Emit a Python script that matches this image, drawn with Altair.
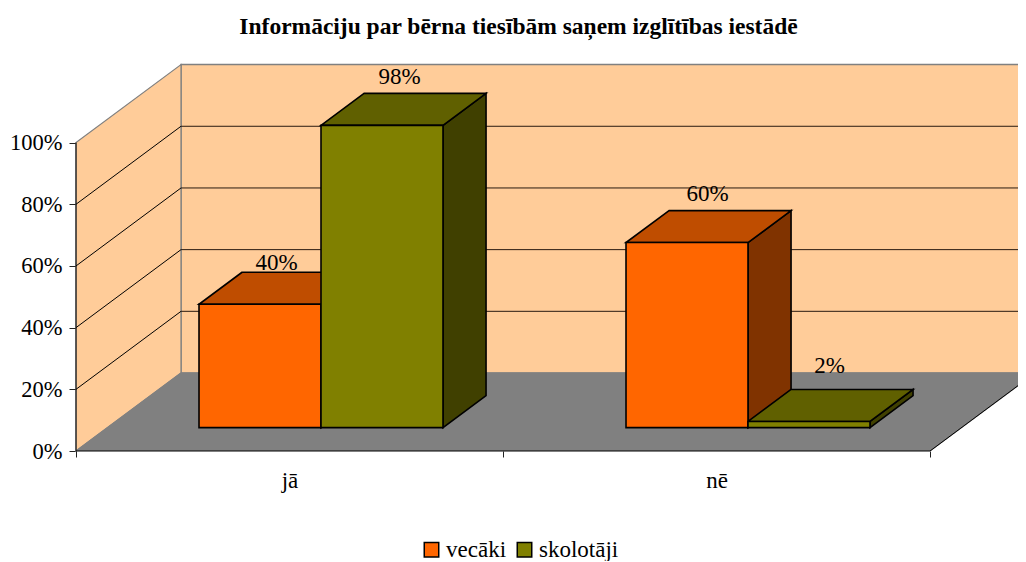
import altair as alt
import pandas as pd

TITLE = "Informāciju par bērna tiesībām saņem izglītības iestādē"
categories = ["jā", "nē"]
series = ["vecāki", "skolotāji"]
vecaki = [40, 60]
skolotaji = [98, 2]
ticks = [0, 20, 40, 60, 80, 100]

FONT = "Liberation Serif"
front_colors = ["#FF6600", "#808000"]
top_colors = ["#BF4D00", "#606000"]
side_colors = ["#803300", "#404000"]
WALL, FLOOR, EDGE = "#FFCC99", "#808080", "#808080"

# layout of the oblique projection
PX_W, PX_H = 942, 391
UX, UY = 427.0, 3.084                # pixels per category / per percent
DX, DY = 105 / UX, 78 / UY           # full depth shift in axis units
XMAX, YMAX = PX_W / UX, PX_H / UY
Z0, Z1 = 0.30, 0.71                  # bar front and back depth
GAP, BAR = 0.2143, 0.2857
# label nudges in pixels (x, y of label baseline above the mid-depth top)
nudge = {(0, 0): (-5, 18), (0, 1): (-4, 25), (1, 0): (-1, 26), (1, 1): (-1, 32)}

xs = alt.Scale(domain=[0, XMAX], nice=False, zero=False)
ys = alt.Scale(domain=[0, YMAX], nice=False, zero=False)
xaxis = alt.Axis(values=[0, 0.5, 1, 1.5, 2], title=None, domain=False, grid=False,
                 labelExpr="datum.value==0.5?'%s':datum.value==1.5?'%s':''" % tuple(categories),
                 labelFont=FONT, labelFontSize=23, labelColor="black", labelPadding=12,
                 labelAngle=0, labelOverlap=False, tickSize=6, tickColor="#222222",
                 tickOpacity={"condition": {"test": "datum.value % 1 == 0", "value": 1}, "value": 0})
yaxis = alt.Axis(values=ticks, title=None, domain=False, grid=False,
                 labelExpr="datum.value+'%'", labelFont=FONT, labelFontSize=22.5,
                 labelColor="black", labelPadding=7, tickSize=7, tickColor="#222222")


def X(f):
    return alt.X(f, type="quantitative", scale=xs, axis=xaxis)


def Y(f):
    return alt.Y(f, type="quantitative", scale=ys, axis=yaxis, stack=None)


rows_front, rows_top, rows_side, rows_label = [], [], [], []
for ci, cat in enumerate(categories):
    for si, vals in enumerate([vecaki, skolotaji]):
        v = vals[ci]
        a = ci + GAP + si * BAR
        b = a + BAR
        key = f"{ci}-{si}"
        rows_front.append(dict(x=a + Z0 * DX, x2=b + Z0 * DX, y=Z0 * DY + v, y2=Z0 * DY, s=series[si]))
        for z in (Z0, Z1):
            rows_top.append(dict(k=key, y=v + z * DY, x=a + z * DX, x2=b + z * DX, f=top_colors[si]))
            rows_side.append(dict(k=key, x=b + z * DX, y=v + z * DY, y2=z * DY, f=side_colors[si]))
        zm = (Z0 + Z1) / 2
        nx, ny = nudge[(ci, si)]
        rows_label.append(dict(x=(a + b) / 2 + zm * DX + nx / UX, y=v + zm * DY + ny / UY, t=f"{v}%"))

wall_back = pd.DataFrame([dict(x=DX, x2=2 + DX, y=DY, y2=100 + DY)])
wall_side = pd.DataFrame([dict(x=0, y=0, y2=100), dict(x=DX, y=DY, y2=100 + DY)])
floor = pd.DataFrame([dict(y=0, x=0, x2=2), dict(y=DY, x=DX, x2=2 + DX)])
grid_vals = [t for t in ticks if 0 < t < 100]
grid_back = pd.DataFrame([dict(x=DX, x2=2 + DX, y=t + DY, y2=t + DY) for t in grid_vals])
grid_side = pd.DataFrame([dict(x=0, x2=DX, y=t, y2=t + DY) for t in grid_vals])
frame = pd.DataFrame([
    dict(x=0, x2=2, y=0, y2=0),
    dict(x=0, x2=0, y=0, y2=100),
    dict(x=2, x2=2 + DX, y=0, y2=DY),
])


def rule(df, **kw):
    return alt.Chart(df).mark_rule(**kw).encode(x=X("x"), x2="x2", y=Y("y"), y2="y2")


layers = [
    alt.Chart(wall_back).mark_rect(fill=WALL, stroke=EDGE, strokeWidth=1.5, clip=True)
    .encode(x=X("x"), x2="x2", y=Y("y"), y2="y2"),
    alt.Chart(wall_side).mark_area(fill=WALL, stroke=EDGE, strokeWidth=1.2)
    .encode(x=X("x"), y=Y("y"), y2="y2"),
    rule(grid_back, color="#2a1a10", strokeWidth=1, clip=True),
    rule(grid_side, color="black", strokeWidth=1),
    alt.Chart(floor).mark_area(orient="horizontal", fill=FLOOR, stroke=EDGE, strokeWidth=1.2, clip=True)
    .encode(y=alt.Y("y", type="quantitative", scale=ys, axis=yaxis, stack=None),
            x=alt.X("x", type="quantitative", scale=xs, axis=xaxis, stack=None), x2="x2"),
    rule(frame, color="black", strokeWidth=1),
    alt.Chart(pd.DataFrame(rows_side)).mark_area(stroke="black", strokeWidth=1.6)
    .encode(x=X("x"), y=Y("y"), y2="y2", detail="k:N", fill=alt.Fill("f:N", scale=None)),
    alt.Chart(pd.DataFrame(rows_top)).mark_area(orient="horizontal", stroke="black", strokeWidth=1.6)
    .encode(y=alt.Y("y", type="quantitative", scale=ys, axis=yaxis, stack=None),
            x=alt.X("x", type="quantitative", scale=xs, axis=xaxis, stack=None), x2="x2",
            detail="k:N", fill=alt.Fill("f:N", scale=None)),
    alt.Chart(pd.DataFrame(rows_front)).mark_rect(stroke="black", strokeWidth=1.6)
    .encode(x=X("x"), x2="x2", y=Y("y"), y2="y2",
            color=alt.Color("s:N", scale=alt.Scale(domain=series, range=front_colors),
                            legend=alt.Legend(orient="none", legendX=344, legendY=478, direction="horizontal",
                                              title=None, symbolType="square", symbolSize=210,
                                              symbolStrokeColor="black", symbolStrokeWidth=1.5,
                                              symbolOpacity=1, labelFont=FONT, labelFontSize=23,
                                              labelColor="black", labelOffset=3, columnPadding=6))),
    alt.Chart(pd.DataFrame(rows_label)).mark_text(font=FONT, fontSize=23, color="black", baseline="alphabetic")
    .encode(x=X("x"), y=Y("y"), text="t:N"),
]

chart = (
    alt.layer(*layers)
    .properties(
        width=PX_W, height=PX_H,
        title=alt.TitleParams(TITLE, font=FONT, fontSize=23.5, fontWeight="bold", color="black",
                              anchor="middle", frame="group", dx=-28.5, offset=22),
        padding={"left": 68, "top": 52, "right": 0, "bottom": 110},
        autosize="none",
    )
    .configure_view(stroke=None)
)
chart.save("out.html", embed_options={"renderer": "svg", "actions": False})
